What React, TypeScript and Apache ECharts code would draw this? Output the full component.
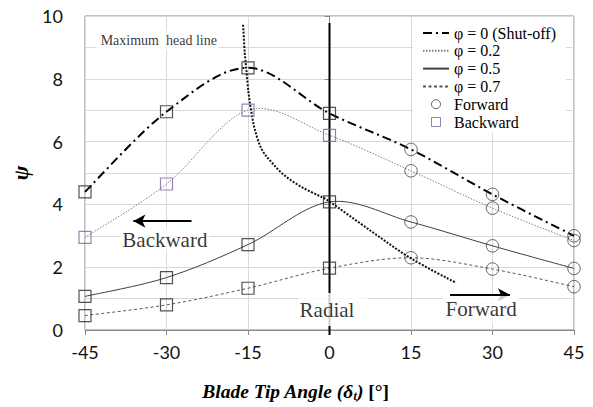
import React, { useEffect, useRef } from "react";
import * as echarts from "echarts";

// Blade tip angle (deg) at which the curves were measured
const angles = [-45, -30, -15, 0, 15, 30, 45];
// Head coefficient psi for each flow coefficient phi
const psiShutOff = [4.4, 6.95, 8.35, 6.9, 5.75, 4.32, 3.0];
const psi02 = [2.95, 4.65, 7.0, 6.2, 5.07, 3.88, 2.85];
const psi05 = [1.07, 1.67, 2.72, 4.08, 3.44, 2.68, 1.96];
const psi07 = [0.46, 0.8, 1.33, 1.97, 2.3, 1.94, 1.38];

// Maximum head line
const maxHeadX = [-15.9, -15.6, -15.3, -14.9, -14.4, -13.75, -12.5, -10.65, -8.2, -5.1, -2.0, 0, 7.5, 15, 23.3];
const maxHeadY = [9.72, 8.82, 8.29, 7.55, 6.97, 6.39, 5.76, 5.34, 4.91, 4.55, 4.28, 4.09, 3.17, 2.28, 1.5];

// Radial (0 deg) reference line
const radialX = [0, 0];
const radialY = [9.78, -0.16];

const seriesNames = ["φ = 0 (Shut-off)", "φ = 0.2", "φ = 0.5", "φ = 0.7"];
const xTicks = { min: -45, max: 45, step: 15 };
const yTicks = { min: 0, max: 10, step: 2 };

const SERIF = '"Liberation Serif", "Times New Roman", serif';
const SANS = 'Lato, "Open Sans", sans-serif';
const PURPLE = "#8064A2";

// Excel-like smooth (Catmull-Rom) path through pixel points
function smoothPath(pts: number[][]): string {
  let d = `M${pts[0][0]},${pts[0][1]}`;
  for (let i = 0; i < pts.length - 1; i++) {
    const p0 = pts[Math.max(i - 1, 0)];
    const p1 = pts[i];
    const p2 = pts[i + 1];
    const p3 = pts[Math.min(i + 2, pts.length - 1)];
    const c1x = p1[0] + (p2[0] - p0[0]) / 6;
    const c1y = p1[1] + (p2[1] - p0[1]) / 6;
    const c2x = p2[0] - (p3[0] - p1[0]) / 6;
    const c2y = p2[1] - (p3[1] - p1[1]) / 6;
    d += ` C${c1x},${c1y} ${c2x},${c2y} ${p2[0]},${p2[1]}`;
  }
  return d;
}

function smoothSeries(name: string, xs: number[], ys: number[], color: string, width: number, dash: any, z: number) {
  return {
    name,
    type: "custom",
    coordinateSystem: "cartesian2d",
    silent: true,
    z,
    encode: { x: 0, y: 1 },
    data: xs.map((x, i) => [x, ys[i]]),
    renderItem: (params: any, api: any) => {
      if (params.dataIndex !== 0) return null;
      const pts = xs.map((x, i) => api.coord([x, ys[i]]));
      return {
        type: "path",
        shape: { pathData: smoothPath(pts) },
        style: { fill: "none", stroke: color, lineWidth: width, lineDash: dash },
      };
    },
  };
}

export default function App() {
  const ref = useRef<HTMLDivElement>(null);

  useEffect(() => {
    document.body.style.margin = "0";
    const chart = echarts.init(ref.current!, null, { renderer: "svg" });

    const curves = [
      { name: seriesNames[0], ys: psiShutOff, color: "#000000", width: 2, dash: [9, 4, 2, 4], purple: false },
      { name: seriesNames[1], ys: psi02, color: "#7f7f7f", width: 1, dash: [1.5, 1.5], purple: true },
      { name: seriesNames[2], ys: psi05, color: "#404040", width: 1, dash: null, purple: false },
      { name: seriesNames[3], ys: psi07, color: "#595959", width: 1, dash: [3, 2.5], purple: false },
    ];

    // Legend-only line series (carry the line style for the legend icons)
    const legendSeries = curves.map((c) => ({
      name: c.name,
      type: "line",
      data: [],
      symbol: "none",
      color: c.color,
      itemStyle: { opacity: 0 },
      lineStyle: { color: c.color, width: c.width, type: c.dash ? c.dash : "solid" },
      silent: true,
    }));

    const curveSeries = curves.map((c, k) =>
      smoothSeries("curve" + k, angles, c.ys, c.color, c.width, c.dash, 2)
    );

    const forwardData: any[] = [];
    const backwardData: any[] = [];
    curves.forEach((c) => {
      angles.forEach((x, i) => {
        if (x > 0) forwardData.push([x, c.ys[i]]);
        else
          backwardData.push({
            value: [x, c.ys[i]],
            itemStyle: { borderColor: c.purple ? PURPLE : "#262626" },
          });
      });
    });

    const notes = [
      { name: "Maximum  head line", value: [-31.7, 9.22], fontSize: 14, padding: [2, 2, 3, 5] },
      { name: "Backward", value: [-30.3, 2.88], fontSize: 21, padding: [1, 2, 1, 2] },
      { name: "Radial", value: [0.64, 0.65], fontSize: 21, padding: [6, 13, 6, 1] },
      { name: "Forward", value: [27.9, 0.655], fontSize: 21, padding: [5, 3, 1, 3] },
    ];

    const option: any = {
      animation: false,
      backgroundColor: "#ffffff",
      grid: {
        left: 85,
        right: 19,
        top: 16,
        bottom: 75,
        show: true,
        borderColor: "#898989",
        borderWidth: 1,
      },
      legend: {
        data: [
          ...seriesNames.map((n) => ({ name: n, itemStyle: { opacity: 0 } })),
          { name: "Forward", itemStyle: { borderWidth: 1 } },
          { name: "Backward", icon: "path://M0,0L10,0L10,10L0,10Z", itemStyle: { borderWidth: 1 } },
        ],
        orient: "vertical",
        left: 413,
        top: 17,
        padding: [8, 10, 3, 9],
        backgroundColor: "#ffffff",
        itemWidth: 26,
        itemHeight: 9,
        itemGap: 1.8,
        selectedMode: false,
        textStyle: { fontFamily: SERIF, fontSize: 16, color: "#000", lineHeight: 16 },
      },
      xAxis: {
        type: "value",
        min: xTicks.min,
        max: xTicks.max,
        interval: xTicks.step,
        axisLine: { show: true, onZero: false, lineStyle: { color: "#898989", width: 1 } },
        axisTick: { show: true, length: 5, lineStyle: { color: "#898989" } },
        axisLabel: { fontFamily: SANS, fontSize: 18, color: "#111", margin: 13 },
        splitLine: { show: true, lineStyle: { color: "#d9d9d9", width: 1 } },
        name: "{b|Blade Tip Angle (δ}{s|t}{b|) }{n|[°]}",
        nameLocation: "middle",
        nameGap: 51,
        nameTextStyle: {
          padding: [0, 68, 0, 0],
          rich: {
            b: { fontFamily: SERIF, fontSize: 19.5, fontWeight: "bold", fontStyle: "italic", color: "#000", lineHeight: 19, verticalAlign: "top" },
            s: { fontFamily: SERIF, fontSize: 12, fontWeight: "bold", fontStyle: "italic", color: "#000", lineHeight: 12, padding: [9, 0, 0, 0], verticalAlign: "top" },
            n: { fontFamily: SERIF, fontSize: 19.5, fontWeight: "bold", color: "#000", lineHeight: 19, verticalAlign: "top" },
          },
        },
      },
      yAxis: {
        type: "value",
        min: yTicks.min,
        max: yTicks.max,
        interval: yTicks.step,
        axisLine: { show: true, lineStyle: { color: "#898989", width: 1 } },
        axisTick: { show: true, length: 5, lineStyle: { color: "#898989" } },
        axisLabel: { fontFamily: SANS, fontSize: 18, color: "#111", margin: 22 },
        splitLine: { show: true, lineStyle: { color: "#d9d9d9", width: 1 } },
        minorTick: { show: false, splitNumber: 2 },
        minorSplitLine: { show: true, lineStyle: { color: "#d9d9d9", width: 1 } },
        name: "ψ",
        nameLocation: "middle",
        nameGap: 48,
        nameTextStyle: { fontFamily: SERIF, fontSize: 22, fontWeight: "bold", fontStyle: "italic", color: "#000" },
      },
      series: [
        ...legendSeries,
        ...curveSeries,
        smoothSeries("Maximum head line", maxHeadX, maxHeadY, "#111111", 2, [2, 1.5], 4),
        {
          name: "Radial line",
          type: "line",
          data: radialX.map((x, i) => [x, radialY[i]]),
          symbol: "none",
          clip: false,
          lineStyle: { color: "#000", width: 2, type: "solid" },
          z: 3,
          silent: true,
          markLine: {
            silent: true,
            symbol: ["none", "arrow"],
            symbolSize: [10, 12],
            label: { show: false },
            lineStyle: { color: "#000", width: 2, type: "solid" },
            data: [
              [{ coord: [-25.4, 3.47] }, { coord: [-36.1, 3.47] }],
              [{ coord: [22.2, 1.12] }, { coord: [33.2, 1.12] }],
            ],
          },
        },
        {
          name: "Forward",
          type: "scatter",
          symbol: "circle",
          symbolSize: 12.5,
          itemStyle: { color: "rgba(0,0,0,0)", borderColor: "#404040", borderWidth: 1 },
          data: forwardData,
          z: 5,
          silent: true,
        },
        {
          name: "Backward",
          type: "scatter",
          symbol: "rect",
          symbolSize: 12,
          itemStyle: { color: "rgba(0,0,0,0)", borderColor: PURPLE, borderWidth: 1.2 },
          data: backwardData,
          z: 5,
          silent: true,
        },
        {
          name: "notes",
          type: "scatter",
          symbolSize: 1,
          itemStyle: { color: "rgba(0,0,0,0)" },
          z: 10,
          silent: true,
          label: {
            show: true,
            position: "inside",
            formatter: (p: any) => p.name,
            fontFamily: SERIF,
            color: "#000",
            backgroundColor: "#ffffff",
          },
          data: notes.map((n) => ({
            name: n.name,
            value: n.value,
            label: { fontSize: n.fontSize, padding: n.padding },
          })),
        },
      ],
    };

    chart.setOption(option);
    return () => chart.dispose();
  }, []);

  return <div ref={ref} style={{ width: 593, height: 407 }} />;
}
